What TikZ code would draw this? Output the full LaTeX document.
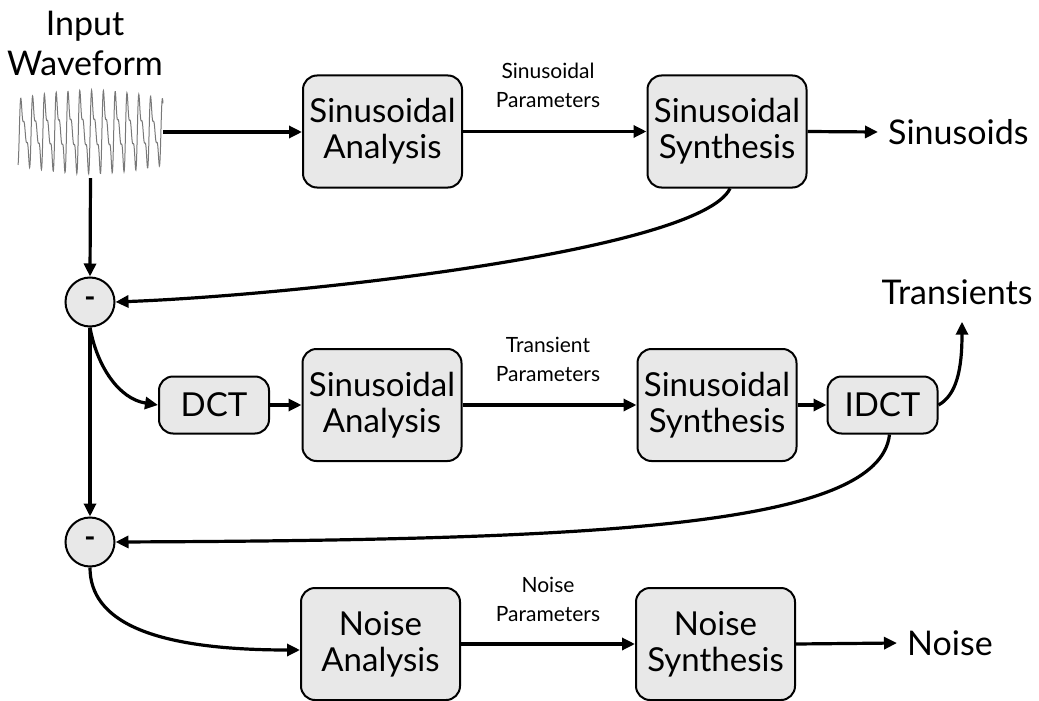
\documentclass[tikz,border=0pt]{standalone}
\usepackage{fontspec}
\setmainfont{Lato}
\usetikzlibrary{arrows.meta}
\definecolor{boxfill}{RGB}{232,232,232}
\definecolor{wavegray}{RGB}{120,120,120}
\begin{document}
\begin{tikzpicture}[x=1pt,y=-1pt,
  declare function={ph(\t)=mod(30.508*(\t-18)+140,360);
                    env(\t)=0.8+0.2*sin(1.2414*(\t-18));},
  blk/.style={draw=black, line width=2pt, fill=boxfill, rounded corners=14pt,
    minimum width=159pt, minimum height=112pt, align=center, inner sep=0pt,
    font=\fontsize{33}{36}\selectfont},
  tblk/.style={blk, minimum width=110pt, minimum height=57pt},
  sub/.style={circle, draw=black, line width=2pt, fill=boxfill, minimum size=49pt,
    inner sep=0pt, font=\fontsize{30}{30}\selectfont\bfseries},
  lbl/.style={font=\fontsize{34}{40}\selectfont, inner sep=0pt, align=center},
  plbl/.style={font=\fontsize{21}{29}\selectfont, inner sep=0pt, align=center},
  arr/.style={line width=3.2pt, -{Triangle[length=13pt,width=12pt]}}]

\useasboundingbox[fill=white] (0,0) rectangle (1039,701);

% input signal
\node[lbl] (inp) at (85,43) {Input\\Waveform};
\node[minimum width=145pt, minimum height=92pt, inner sep=0pt] (wave) at (90.5,132) {};
\draw[wavegray, line width=1pt] plot[domain=18:163, samples=600]
  (\x, {132 + 29*env(\x)*(sin(ph(\x)) - 0.5*sin(2*ph(\x)) + 0.33*sin(3*ph(\x)))});

% sinusoidal branch
\node[blk] (sa1) at (382.5,131.5) {Sinusoidal\\Analysis};
\node[blk] (ss1) at (727,131.5) {Sinusoidal\\Synthesis};
\node[plbl] (sp) at (548,85) {Sinusoidal\\Parameters};
\node[lbl, anchor=west, inner xsep=10pt] (sinus) at (878,132) {Sinusoids};

% transient branch
\node[sub] (c1) at (90,302) {-};
\node[tblk] (dct) at (214,405) {DCT};
\node[blk] (sa2) at (382,405) {Sinusoidal\\Analysis};
\node[plbl] (tp) at (548,359) {Transient\\Parameters};
\node[blk] (ss2) at (717,405) {Sinusoidal\\Synthesis};
\node[tblk] (idct) at (882.5,405) {IDCT};
\node[lbl] (trans) at (957,292) {Transients};

% noise branch
\node[sub] (c2) at (90,542) {-};
\node[blk] (na) at (380.5,644) {Noise\\Analysis};
\node[plbl] (np) at (548,599) {Noise\\Parameters};
\node[blk] (ns) at (715.5,644) {Noise\\Synthesis};
\node[lbl, anchor=west, inner xsep=10pt] (noise) at (897,643) {Noise};

% connectors
\draw[arr] (wave.east) -- (wave.east -| sa1.west);
\draw[arr] (sa1.east) -- (ss1.west);
\draw[arr] (ss1.east) -- (sinus.west);
\draw[arr] (wave.south) -- (c1.north);
\draw[arr] ([xshift=3pt]ss1.south) .. controls +(-30,62) and +(185,-7) .. (c1.east);

\draw[arr] (c1.south) .. controls +(7,39) and +(-39,-6) .. (dct.west);
\draw[arr] (c1.south) -- (c2.north);
\draw[arr] (dct.east) -- (sa2.west);
\draw[arr] (sa2.east) -- (ss2.west);
\draw[arr] (ss2.east) -- (idct.west);
\draw[arr] (idct.east) .. controls +(18,-10) and +(0,48) .. ([xshift=5pt,yshift=-17pt]trans.south);
\draw[arr] ([xshift=7pt]idct.south) .. controls +(-10,92) and +(485,-2) .. (c2.east);

\draw[arr] (c2.south) .. controls +(0,53) and +(-150,0) .. ([yshift=-6pt]na.west);
\draw[arr] (na.east) -- (ns.west);
\draw[arr] (ns.east) -- (noise.west);
\end{tikzpicture}
\end{document}
